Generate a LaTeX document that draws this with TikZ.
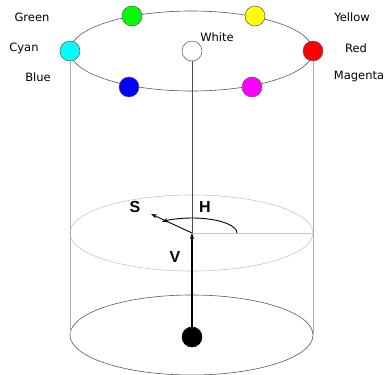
\documentclass[tikz,border=0pt]{standalone}
\usepackage{fontspec}
\setmainfont{DejaVu Sans}
\newfontfamily\boldfont{Liberation Sans}
\usetikzlibrary{arrows.meta}
\definecolor{cCyan}{RGB}{0,255,255}
\definecolor{cMagenta}{RGB}{255,0,255}
\definecolor{cGreen}{RGB}{0,255,0}
\definecolor{cYellow}{RGB}{255,255,0}
\definecolor{cRed}{RGB}{255,0,0}
\definecolor{cBlue}{RGB}{0,0,255}
\begin{document}
\begin{tikzpicture}[x=1pt,y=-1pt,
  dot/.style={circle,draw=gray!70!black,line width=0.5pt,minimum size=20pt,inner sep=0pt},
  lbl/.style={font=\fontsize{11.5}{13}\selectfont,inner sep=0pt},
  big/.style={font=\boldfont\bfseries\fontsize{16}{18}\selectfont,inner sep=0pt},
  rim/.style={draw=gray!70!black,line width=0.6pt},
  faint/.style={draw=gray!45,line width=0.6pt},
  side/.style={draw=gray!60,line width=0.6pt},
  arr/.style={-{Stealth[length=6pt,width=4pt]},line width=0.9pt,black}]
\useasboundingbox (0,0) rectangle (386,375);
% ellipses
\draw[rim] (191.5,51) ellipse [x radius=121.5, y radius=40];
\draw[faint] (191.5,233) ellipse [x radius=121.5, y radius=38];
\draw[rim] (191.5,335) ellipse [x radius=121.5, y radius=40];
% coordinates
\coordinate (ctr) at (192,233);
\coordinate (midR) at (313,233);
\coordinate (botL) at (70,335);
\coordinate (botR) at (313,335);
\coordinate (stip) at (151,214);
% dots
\node[dot,fill=cGreen] (green) at (132,16) {};
\node[dot,fill=cYellow] (yellow) at (255,16) {};
\node[dot,fill=cCyan] (cyan) at (70,51) {};
\node[dot,fill=white] (white) at (192,51) {};
\node[dot,fill=cRed] (red) at (313,51) {};
\node[dot,fill=cBlue] (blue) at (129,87) {};
\node[dot,fill=cMagenta] (magenta) at (252,87) {};
\node[dot,fill=black,draw=black] (black) at (192,337) {};
% sides and axis
\draw[side] (cyan.south) -- (botL);
\draw[side] (red.south) -- (botR);
\draw[draw=gray!60!black,line width=0.6pt] (white.south) -- (ctr);
\draw[faint] (ctr) -- (midR);
\draw[arr,line width=1.1pt] (black.north) -- (ctr);
\draw[arr] (ctr) -- (stip);
\draw[-{Stealth[length=6pt,width=4pt]},line width=0.9pt] (ctr) ++(45,0) arc[start angle=0,end angle=-132,x radius=45,y radius=15];
% labels
\node[lbl] (lgreen) at (32,17) {Green};
\node[lbl] (lyellow) at (352,17) {Yellow};
\node[lbl] (lcyan) at (24,48) {Cyan};
\node[lbl] (lred) at (356,48) {Red};
\node[lbl] (lblue) at (38,77) {Blue};
\node[lbl] (lmagenta) at (359,77) {Magenta};
\node[lbl] (lwhite) at (217,37) {White};
\node[big] (S) at (135,207) {S};
\node[big] (H) at (205,207) {H};
\node[big] (V) at (175,257) {V};
\end{tikzpicture}
\end{document}
